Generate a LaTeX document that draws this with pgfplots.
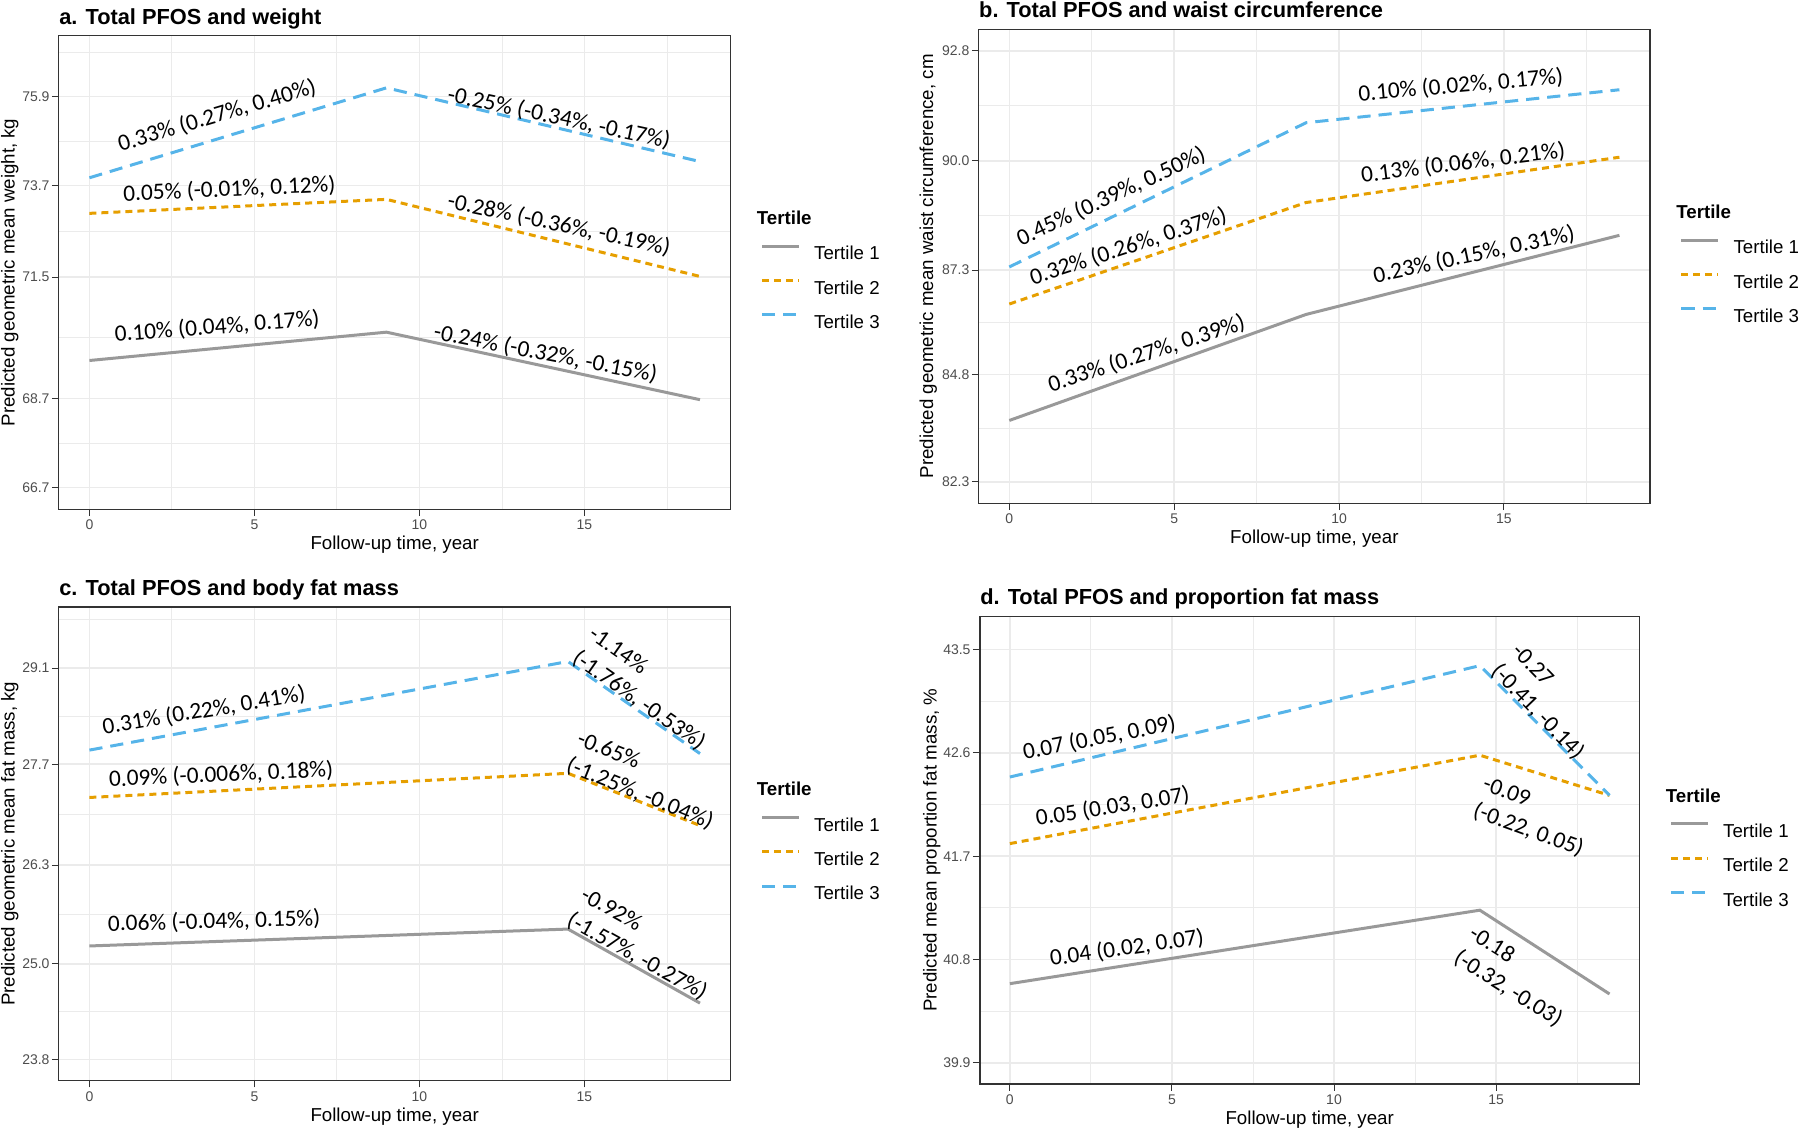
\documentclass[border=0pt]{standalone}
\usepackage{fontspec}
\setmainfont{Liberation Sans}
\newfontfamily\calfont{Carlito}
\usepackage{pgfplots}
\pgfplotsset{compat=1.18}
\definecolor{tone}{HTML}{999999}
\definecolor{ttwo}{HTML}{E69F00}
\definecolor{tthree}{HTML}{56B4E9}
\definecolor{gridc}{HTML}{EBEBEB}
\definecolor{borderc}{HTML}{333333}
\definecolor{tickc}{HTML}{4D4D4D}
\tikzset{ann/.style={font=\calfont\fontsize{11.7}{14.3}\selectfont, inner sep=0pt, align=left}}
\pgfplotsset{
  panel/.style={
    scale only axis, anchor=south west, clip=false,
    xmin=-0.925, xmax=19.425,
    xtick={0,5,10,15}, minor xtick={2.5,7.5,12.5,17.5},
    xmajorgrids, xminorgrids, ymajorgrids, yminorgrids,
    major grid style={draw=gridc, line width=0.75pt},
    minor grid style={draw=gridc, line width=0.45pt},
    minor tick length=0pt, major tick length=3.5pt,
    tick align=outside, tick pos=left,
    tick style={draw=borderc, line width=0.5pt},
    axis line style={draw=borderc, line width=0.6pt},
    /pgf/number format/assume math mode=true,
    ticklabel style={font=\fontsize{7}{8}\selectfont, text=tickc},
    xticklabel style={anchor=north, inner sep=0pt, yshift=-1.8pt},
    yticklabel style={anchor=east, inner sep=0pt, xshift=-1pt},
    xlabel style={font=\fontsize{9.35}{11}\selectfont, at={([yshift=-20.35pt]axis description cs:0.5,0)}, anchor=base, inner sep=0pt},
    ylabel style={font=\fontsize{9.35}{11}\selectfont, at={([xshift=-24.5pt]axis description cs:0,0.5)}, anchor=center, inner sep=0pt},
    every axis title/.style={font=\bfseries\fontsize{10.9}{13}\selectfont, at={([yshift=5.85pt]axis description cs:0,1)}, anchor=base west, inner sep=0pt},
    legend style={at={([xshift=15pt]axis description cs:1,0.47)}, anchor=west, draw=none, fill=none, inner sep=0pt, outer sep=0pt,
      font=\fontsize{9.35}{11}\selectfont, row sep=9.5pt, column sep=6.85pt,
      nodes={inner sep=0pt, text height=7pt, text depth=0pt}},
    legend cell align=left,
    legend image code/.code={\draw[##1] (0pt,3.4pt) -- (18.5pt,3.4pt);},
  },
  tA/.style={draw=tone, line width=1.5pt},
  tB/.style={draw=ttwo, line width=1.5pt, dash pattern=on 3.5pt off 2.5pt},
  tC/.style={draw=tthree, line width=1.5pt, dash pattern=on 6.6pt off 4pt},
}
\newcommand{\legtitle}{\node[anchor=west, inner sep=0pt, font=\bfseries\fontsize{9.35}{11}\selectfont] at ([xshift=13pt,yshift=34.35pt]axis description cs:1,0.47) {Tertile};}
\begin{document}
\begin{tikzpicture}
\useasboundingbox (0,0) rectangle (900pt,564.5pt);
% ---------------- a ----------------
\begin{axis}[panel, at={(29.45pt,309.85pt)}, width=335.8pt, height=236.7pt,
  ymode=log, ymin=66.23, ymax=77.44,
  ytick={66.7,68.7,71.5,73.7,75.9}, yticklabels={66.7,68.7,71.5,73.7,75.9},
  minor ytick={67.69,70.09,72.59,74.79,77.02},
  title={a. Total PFOS and weight},
  xlabel={Follow-up time, year}, ylabel={Predicted geometric mean weight, kg}]
\addplot[tA] coordinates {(0,69.56) (9,70.22) (18.5,68.67)};
\addplot[tB] coordinates {(0,73.03) (9,73.37) (18.5,71.52)};
\addplot[tC] coordinates {(0,73.89) (9,76.12) (18.5,74.29)};
\legend{Tertile 1,Tertile 2,Tertile 3}
\legtitle
\node[ann, rotate=16.5] at (axis cs:3.87,75.42) {0.33\% (0.27\%, 0.40\%)};
\node[ann, rotate=-12] at (axis cs:14.23,75.36) {-0.25\% (-0.34\%, -0.17\%)};
\node[ann, rotate=2.5] at (axis cs:4.24,73.60) {0.05\% (-0.01\%, 0.12\%)};
\node[ann, rotate=-12] at (axis cs:14.23,72.76) {-0.28\% (-0.36\%, -0.19\%)};
\node[ann, rotate=4.5] at (axis cs:3.87,70.34) {0.10\% (0.04\%, 0.17\%)};
\node[ann, rotate=-11] at (axis cs:13.82,69.72) {-0.24\% (-0.32\%, -0.15\%)};
\end{axis}
% ---------------- b ----------------
\begin{axis}[panel, at={(489.4pt,312.75pt)}, width=335.55pt, height=237pt,
  ymode=log, ymin=81.81, ymax=93.36,
  ytick={82.3,84.8,87.3,90.0,92.8}, yticklabels={82.3,84.8,87.3,90.0,92.8},
  minor ytick={83.54,86.04,88.64,91.39},
  ylabel style={at={([xshift=-25.3pt]axis description cs:0,0.5)}},
  title={b. Total PFOS and waist circumference},
  xlabel={Follow-up time, year}, ylabel={Predicted geometric mean waist circumference, cm}]
\addplot[tA] coordinates {(0,83.72) (9,86.23) (18.5,88.15)};
\addplot[tB] coordinates {(0,86.48) (9,88.96) (18.5,90.09)};
\addplot[tC] coordinates {(0,87.38) (9,90.96) (18.5,91.80)};
\legend{Tertile 1,Tertile 2,Tertile 3}
\legtitle
\node[ann, rotate=25] at (axis cs:3.09,89.11) {0.45\% (0.39\%, 0.50\%)};
\node[ann, rotate=5] at (axis cs:13.69,91.91) {0.10\% (0.02\%, 0.17\%)};
\node[ann, rotate=18] at (axis cs:3.61,87.87) {0.32\% (0.26\%, 0.37\%)};
\node[ann, rotate=7] at (axis cs:13.76,89.94) {0.13\% (0.06\%, 0.21\%)};
\node[ann, rotate=18] at (axis cs:4.16,85.29) {0.33\% (0.27\%, 0.39\%)};
\node[ann, rotate=12] at (axis cs:14.09,87.67) {0.23\% (0.15\%, 0.31\%)};
\end{axis}
% ---------------- c ----------------
\begin{axis}[panel, at={(29.45pt,24.2pt)}, width=335.8pt, height=236.8pt,
  ymode=log, ymin=23.545, ymax=30.03,
  ytick={23.8,25.0,26.3,27.7,29.1}, yticklabels={23.8,25.0,26.3,27.7,29.1},
  minor ytick={24.39,25.64,26.99,28.39,29.84},
  title={c. Total PFOS and body fat mass},
  xlabel={Follow-up time, year}, ylabel={Predicted geometric mean fat mass, kg}]
\addplot[tA] coordinates {(0,25.23) (14.5,25.45) (18.5,24.50)};
\addplot[tB] coordinates {(0,27.23) (14.5,27.57) (18.5,26.84)};
\addplot[tC] coordinates {(0,27.90) (14.5,29.20) (18.5,27.85)};
\legend{Tertile 1,Tertile 2,Tertile 3}
\legtitle
\node[ann, rotate=9.5] at (axis cs:3.47,28.47) {0.31\% (0.22\%, 0.41\%)};
\node[ann, rotate=-35] at (axis cs:16.89,28.79) {-1.14\%\\(-1.76\%, -0.53\%)};
\node[ann, rotate=2.5] at (axis cs:3.99,27.55) {0.09\% (-0.006\%, 0.18\%)};
\node[ann, rotate=-22] at (axis cs:16.84,27.46) {-0.65\%\\(-1.25\%, -0.04\%)};
\node[ann, rotate=1.5] at (axis cs:3.78,25.55) {0.06\% (-0.04\%, 0.15\%)};
\node[ann, rotate=-29] at (axis cs:16.8,25.25) {-0.92\%\\(-1.57\%, -0.27\%)};
\end{axis}
% ---------------- d ----------------
\begin{axis}[panel, at={(489.95pt,22.5pt)}, width=329.8pt, height=233.85pt,
  ymin=39.716, ymax=43.79,
  ytick={39.9,40.8,41.7,42.6,43.5}, yticklabels={39.9,40.8,41.7,42.6,43.5},
  minor ytick={40.35,41.25,42.15,43.05},
  ylabel style={at={([xshift=-24pt]axis description cs:0,0.5)}},
  title={d. Total PFOS and proportion fat mass},
  xlabel={Follow-up time, year}, ylabel={Predicted mean proportion fat mass, \%}]
\addplot[tA] coordinates {(0,40.59) (14.5,41.23) (18.5,40.50)};
\addplot[tB] coordinates {(0,41.81) (14.5,42.58) (18.5,42.23)};
\addplot[tC] coordinates {(0,42.39) (14.5,43.36) (18.5,42.23)};
\legend{Tertile 1,Tertile 2,Tertile 3}
\legtitle
\node[ann, rotate=11] at (axis cs:2.76,42.73) {0.07 (0.05, 0.09)};
\node[ann, rotate=-46] at (axis cs:16.58,43.04) {-0.27\\(-0.41, -0.14)};
\node[ann, rotate=9] at (axis cs:3.17,42.13) {0.05 (0.03, 0.07)};
\node[ann, rotate=-20] at (axis cs:16.14,42.04) {-0.09\\(-0.22, 0.05)};
\node[ann, rotate=8] at (axis cs:3.61,40.90) {0.04 (0.02, 0.07)};
\node[ann, rotate=-32] at (axis cs:15.6,40.65) {-0.18\\(-0.32, -0.03)};
\end{axis}
\end{tikzpicture}
\end{document}
